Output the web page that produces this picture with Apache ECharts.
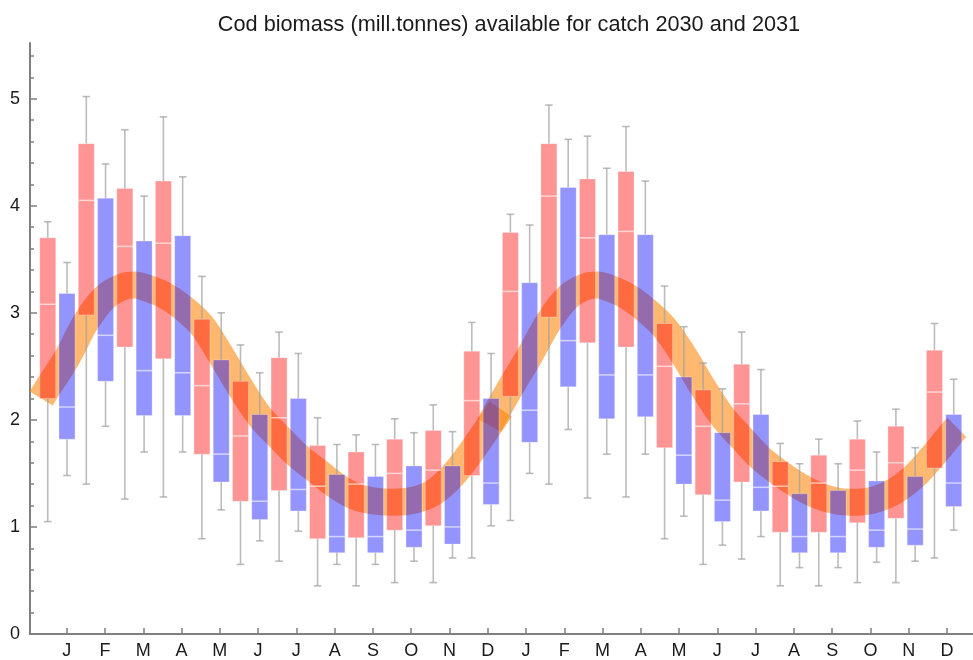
<!DOCTYPE html>
<html>
<head>
<meta charset="utf-8">
<script src="https://cdn.jsdelivr.net/npm/echarts@6/dist/echarts.min.js"></script>
<style>
  html, body { margin: 0; padding: 0; background: #ffffff; }
  #chart { width: 973px; height: 660px; }
</style>
</head>
<body>
<div id="chart"></div>
<script>
// Month initials for the two years shown on the x axis
const monthLabels = ['J','F','M','A','M','J','J','A','S','O','N','D',
                     'J','F','M','A','M','J','J','A','S','O','N','D'];
const yTickLabels = [0, 1, 2, 3, 4, 5];

// Box statistics per month: [min, q1, median, q3, max] (mill. tonnes)
const redBoxes = [
  [1.05, 2.20, 3.08, 3.70, 3.85],
  [1.40, 2.98, 4.05, 4.58, 5.02],
  [1.26, 2.68, 3.62, 4.16, 4.71],
  [1.28, 2.57, 3.65, 4.23, 4.83],
  [0.89, 1.68, 2.32, 2.94, 3.34],
  [0.65, 1.24, 1.85, 2.36, 2.70],
  [0.68, 1.34, 2.02, 2.58, 2.82],
  [0.45, 0.89, 1.38, 1.76, 2.02],
  [0.45, 0.90, 1.40, 1.70, 1.86],
  [0.48, 0.97, 1.50, 1.82, 2.01],
  [0.48, 1.01, 1.53, 1.90, 2.14],
  [0.71, 1.48, 2.18, 2.64, 2.91],
  [1.06, 2.22, 3.20, 3.75, 3.92],
  [1.40, 2.96, 4.09, 4.58, 4.94],
  [1.27, 2.72, 3.70, 4.25, 4.65],
  [1.28, 2.68, 3.76, 4.32, 4.74],
  [0.89, 1.74, 2.50, 2.90, 3.25],
  [0.65, 1.30, 1.94, 2.28, 2.53],
  [0.70, 1.42, 2.15, 2.52, 2.82],
  [0.45, 0.95, 1.38, 1.61, 1.78],
  [0.45, 0.95, 1.41, 1.67, 1.82],
  [0.48, 1.04, 1.53, 1.82, 1.99],
  [0.48, 1.08, 1.60, 1.94, 2.10],
  [0.71, 1.55, 2.26, 2.65, 2.90]
];
const blueBoxes = [
  [1.48, 1.82, 2.12, 3.18, 3.47],
  [1.94, 2.36, 2.79, 4.07, 4.39],
  [1.70, 2.04, 2.46, 3.67, 4.09],
  [1.70, 2.04, 2.44, 3.72, 4.27],
  [1.16, 1.42, 1.68, 2.56, 3.00],
  [0.87, 1.07, 1.24, 2.05, 2.44],
  [0.96, 1.15, 1.35, 2.20, 2.62],
  [0.65, 0.76, 0.91, 1.49, 1.77],
  [0.65, 0.76, 0.91, 1.47, 1.77],
  [0.68, 0.81, 0.97, 1.57, 1.88],
  [0.71, 0.84, 1.00, 1.57, 1.89],
  [1.01, 1.21, 1.41, 2.20, 2.62],
  [1.50, 1.79, 2.09, 3.28, 3.82],
  [1.91, 2.31, 2.74, 4.17, 4.62],
  [1.68, 2.01, 2.42, 3.73, 4.35],
  [1.68, 2.03, 2.42, 3.73, 4.23],
  [1.10, 1.40, 1.67, 2.40, 2.87],
  [0.83, 1.05, 1.25, 1.88, 2.29],
  [0.91, 1.15, 1.37, 2.05, 2.47],
  [0.62, 0.76, 0.91, 1.31, 1.59],
  [0.62, 0.76, 0.91, 1.34, 1.59],
  [0.67, 0.81, 0.97, 1.43, 1.70],
  [0.68, 0.83, 0.98, 1.47, 1.74],
  [0.97, 1.19, 1.41, 2.05, 2.38]
];

// Seasonal trend band, one curve per year (position in months, value)
const bandMonths2030 = [0.33, 0.5, 1.0, 1.5, 2.0, 2.5, 2.75, 3.0, 3.5, 4.0, 4.5, 5.0, 5.5, 6.0,
                        6.5, 7.0, 7.5, 8.0, 8.5, 9.0, 9.5, 10.0, 10.5, 11.0, 11.5, 12.0, 12.25];
const band2030 =       [2.20, 2.30, 2.58, 2.92, 3.15, 3.25, 3.26, 3.24, 3.17, 3.05, 2.88, 2.60, 2.30, 2.03,
                        1.84, 1.66, 1.52, 1.38, 1.28, 1.24, 1.23, 1.25, 1.32, 1.48, 1.71, 1.97, 2.10];
const bandMonths2031 = [11.95, 12.5, 13.0, 13.5, 14.0, 14.5, 14.75, 15.0, 15.5, 16.0, 16.5, 17.0, 17.5, 18.0,
                        18.5, 19.0, 19.5, 20.0, 20.5, 21.0, 21.5, 22.0, 22.5, 23.0, 23.5, 24.0, 24.08];
const band2031 =       [1.95, 2.30, 2.60, 2.92, 3.15, 3.25, 3.26, 3.24, 3.16, 3.03, 2.86, 2.60, 2.30, 2.03,
                        1.83, 1.64, 1.50, 1.38, 1.29, 1.24, 1.23, 1.26, 1.34, 1.48, 1.68, 1.90, 1.93];

const AXIS_GREY = '#7f7f7f';
const FONT = 'Liberation Sans, Arial, sans-serif';

function zipBand(xs, ys) { return xs.map((x, i) => [x, ys[i]]); }

// Red box sits half a month before the blue box of the same month
const redData = redBoxes.map((b, i) => [i + 0.5].concat(b));
const blueData = blueBoxes.map((b, i) => [i + 1].concat(b));

function renderBox(fill) {
  return function (params, api) {
    const x = api.value(0);
    const pLo = api.coord([x, api.value(1)]);
    const pQ1 = api.coord([x, api.value(2)]);
    const pMed = api.coord([x, api.value(3)]);
    const pQ3 = api.coord([x, api.value(4)]);
    const pHi = api.coord([x, api.value(5)]);
    const w = api.size([1, 0])[0] * 0.415;
    const cx = pQ1[0];
    const cap = 3.8;
    const whisker = { stroke: 'rgba(160,160,160,0.7)', lineWidth: 1.6 };
    return {
      type: 'group',
      children: [
        { type: 'line', shape: { x1: cx, y1: pQ3[1], x2: cx, y2: pHi[1] }, style: whisker },
        { type: 'line', shape: { x1: cx - cap, y1: pHi[1], x2: cx + cap, y2: pHi[1] }, style: whisker },
        { type: 'line', shape: { x1: cx, y1: pQ1[1], x2: cx, y2: pLo[1] }, style: whisker },
        { type: 'line', shape: { x1: cx - cap, y1: pLo[1], x2: cx + cap, y2: pLo[1] }, style: whisker },
        { type: 'rect', shape: { x: cx - w / 2, y: pQ3[1], width: w, height: pQ1[1] - pQ3[1] },
          style: { fill: fill, stroke: 'rgba(255,255,255,0.35)', lineWidth: 0.8 } },
        { type: 'line', shape: { x1: cx - w / 2, y1: pMed[1], x2: cx + w / 2, y2: pMed[1] },
          style: { stroke: 'rgba(255,255,255,0.6)', lineWidth: 1.5 } }
      ]
    };
  };
}

const bandStyle = { width: 27, color: 'rgba(255,128,0,0.56)', cap: 'butt', join: 'round' };

const chart = echarts.init(document.getElementById('chart'), null, { renderer: 'canvas' });
chart.setOption({
  animation: false,
  backgroundColor: '#ffffff',
  title: {
    text: 'Cod biomass (mill.tonnes) available for catch 2030 and 2031',
    left: 504, top: 9, textAlign: 'center',
    textStyle: { fontFamily: FONT, fontSize: 21.7, fontWeight: 'normal', color: '#1a1a1a' }
  },
  grid: { left: 30, right: 0, top: 43, bottom: 24, containLabel: false },
  xAxis: [
    {
      // positions of the boxes and the band (months); drawn as the top frame line
      type: 'value', min: 0.04, max: 24.5, position: 'top',
      axisLine: { show: true, lineStyle: { color: AXIS_GREY, width: 2 } },
      axisTick: { show: false }, axisLabel: { show: false }, splitLine: { show: false }
    },
    {
      // month tick marks and labels
      type: 'value', min: 0.04, max: 24.68, position: 'bottom',
      axisLine: { show: true, lineStyle: { color: AXIS_GREY, width: 2 } },
      axisTick: { show: true, inside: true, length: 6, customValues: monthLabels.map((m, i) => i + 1),
                  lineStyle: { color: AXIS_GREY, width: 1.5 } },
      axisLabel: { show: true, customValues: monthLabels.map((m, i) => i + 1), margin: 8,
                   formatter: (v) => monthLabels[Math.round(v) - 1] || '',
                   fontFamily: FONT, fontSize: 18, color: '#1a1a1a' },
      splitLine: { show: false }
    }
  ],
  yAxis: [
    {
      type: 'value', min: 0, max: 5.52, position: 'left',
      axisLine: { show: true, lineStyle: { color: AXIS_GREY, width: 2 } },
      axisTick: { show: true, inside: true, length: 7, customValues: yTickLabels,
                  lineStyle: { color: AXIS_GREY, width: 1.5 } },
      axisLabel: { show: true, customValues: yTickLabels, margin: 10,
                   fontFamily: FONT, fontSize: 18, color: '#1a1a1a' },
      splitLine: { show: false }
    },
    {
      // minor ticks every 0.2
      type: 'value', min: 0, max: 5.52, position: 'left',
      axisLine: { show: false },
      axisTick: { show: true, inside: true, length: 4,
                  customValues: [0.2,0.4,0.6,0.8,1.2,1.4,1.6,1.8,2.2,2.4,2.6,2.8,3.2,3.4,3.6,3.8,4.2,4.4,4.6,4.8,5.2,5.4],
                  lineStyle: { color: AXIS_GREY, width: 1.5 } },
      axisLabel: { show: false }, splitLine: { show: false }
    }
  ],
  series: [
    { name: 'trend 2030', type: 'line', xAxisIndex: 0, yAxisIndex: 0, z: 1, smooth: 0.35,
      showSymbol: false, symbol: 'none', lineStyle: bandStyle, data: zipBand(bandMonths2030, band2030) },
    { name: 'trend 2031', type: 'line', xAxisIndex: 0, yAxisIndex: 0, z: 1, smooth: 0.35,
      showSymbol: false, symbol: 'none', lineStyle: bandStyle, data: zipBand(bandMonths2031, band2031) },
    { name: 'red', type: 'custom', xAxisIndex: 0, yAxisIndex: 0, z: 3,
      renderItem: renderBox('rgba(255,0,0,0.42)'), encode: { x: 0, y: [1, 5] }, data: redData },
    { name: 'blue', type: 'custom', xAxisIndex: 0, yAxisIndex: 0, z: 3,
      renderItem: renderBox('rgba(0,0,255,0.42)'), encode: { x: 0, y: [1, 5] }, data: blueData }
  ]
});
</script>
</body>
</html>
